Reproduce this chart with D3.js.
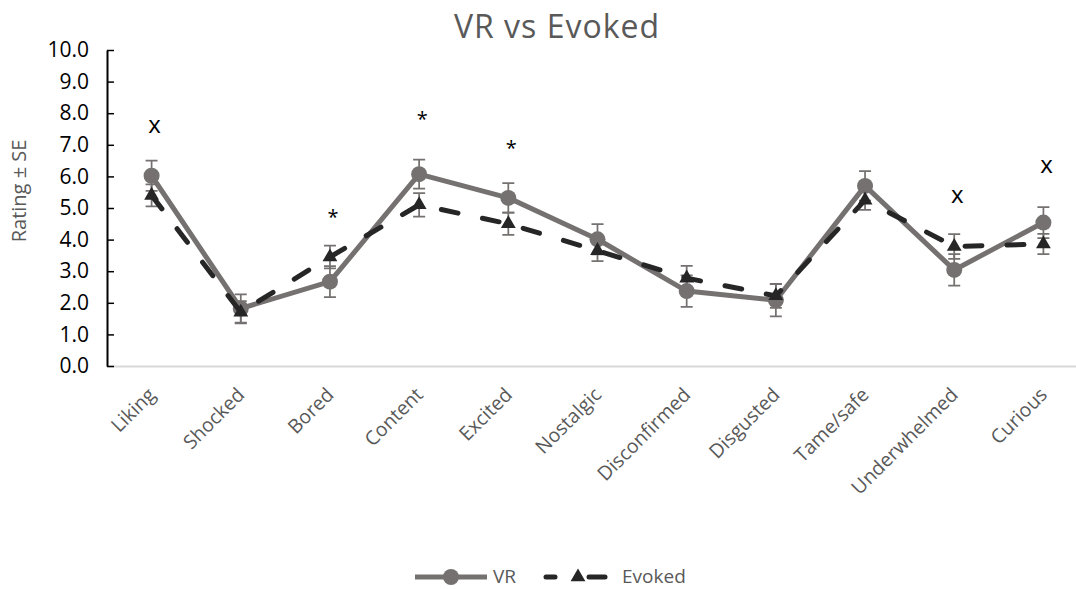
<!DOCTYPE html>
<html>
<head>
<meta charset="utf-8">
<script src="https://cdn.jsdelivr.net/npm/d3@7"></script>
<style>
  html, body { margin: 0; padding: 0; background: #fff; }
  svg { display: block; font-family: "Open Sans", sans-serif; }
</style>
</head>
<body>
<svg id="chart"></svg>
<script>
// Chart data
const categories = ["Liking", "Shocked", "Bored", "Content", "Excited", "Nostalgic",
  "Disconfirmed", "Disgusted", "Tame/safe", "Underwhelmed", "Curious"];
const vrMean = [6.02, 1.82, 2.67, 6.07, 5.32, 4.01, 2.37, 2.08, 5.70, 3.04, 4.54];
const vrSE = [0.48, 0.45, 0.49, 0.46, 0.47, 0.48, 0.50, 0.51, 0.47, 0.50, 0.49];
const evokedMean = [5.40, 1.70, 3.45, 5.10, 4.50, 3.65, 2.78, 2.22, 5.25, 3.78, 3.86];
const evokedSE = [0.35, 0.35, 0.36, 0.37, 0.35, 0.33, 0.39, 0.38, 0.31, 0.39, 0.32];
const yTicks = [0, 1, 2, 3, 4, 5, 6, 7, 8, 9, 10];
// significance marks and the rating level they sit at
const sigMarks = ["x", "", "*", "*", "*", "", "", "", "", "x", "x"];
const sigLevel = [7.37, null, 4.49, 7.61, 6.68, null, null, null, null, 5.16, 6.11];

const W = 1076, H = 589;
const margin = { top: 50, left: 107, bottom: 223 };
const plotW = 981;
const plotH = H - margin.top - margin.bottom;

const grey = "#767171";
const dark = "#262626";
const textGrey = "#595959";

const svg = d3.select("#chart").attr("width", W).attr("height", H);

const x = d3.scaleBand().domain(categories).range([0, plotW]);
const y = d3.scaleLinear().domain([0, 10]).range([plotH, 0]);
const cx = c => x(c) + x.bandwidth() / 2;

const g = svg.append("g").attr("transform", `translate(${margin.left},${margin.top})`);

// Title
svg.append("text")
  .attr("x", 557)
  .attr("y", 38)
  .attr("text-anchor", "middle")
  .attr("fill", textGrey)
  .style("font-size", "32px")
  .style("letter-spacing", "1px")
  .text("VR vs Evoked");

// Y axis title
svg.append("text")
  .attr("transform", "translate(26,191) rotate(-90)")
  .attr("text-anchor", "middle")
  .attr("fill", textGrey)
  .style("font-size", "20px")
  .text("Rating ± SE");

// X axis (light grey baseline, rotated labels)
const xAxis = g.append("g")
  .attr("transform", `translate(0,${plotH})`)
  .call(d3.axisBottom(x).tickSize(0));
xAxis.select(".domain").attr("stroke", "#d9d9d9").attr("stroke-width", 2);
xAxis.selectAll("text")
  .attr("x", 0).attr("y", 0).attr("dy", 0)
  .attr("transform", "translate(5,30) rotate(-45)")
  .style("text-anchor", "end")
  .style("font-size", "19.5px")
  .style("font-family", "Open Sans")
  .attr("fill", textGrey);

// Y axis (black line, inward ticks)
const yAxis = g.append("g")
  .call(d3.axisLeft(y).tickValues(yTicks).tickSize(-7).tickSizeOuter(0)
    .tickPadding(18).tickFormat(d3.format(".1f")));
yAxis.select(".domain").attr("stroke", "#000").attr("stroke-width", 2);
yAxis.selectAll(".tick line").attr("stroke", "#000").attr("stroke-width", 1.5);
yAxis.selectAll("text")
  .style("font-size", "21px")
  .style("font-family", "Open Sans")
  .attr("fill", "#000");

const vrData = categories.map((c, i) => ({ c, v: vrMean[i], se: vrSE[i] }));
const evData = categories.map((c, i) => ({ c, v: evokedMean[i], se: evokedSE[i] }));

function errorBars(data) {
  const eb = g.append("g").attr("stroke", grey).attr("stroke-width", 1.75).attr("fill", "none");
  eb.selectAll("path").data(data).join("path")
    .attr("d", d => {
      const xc = cx(d.c), y1 = y(d.v + d.se), y0 = y(d.v - d.se);
      return `M${xc},${y1}V${y0}M${xc - 6},${y1}H${xc + 6}M${xc - 6},${y0}H${xc + 6}`;
    });
}

const line = d3.line().x(d => cx(d.c)).y(d => y(d.v));

// VR series
errorBars(vrData);
g.append("path").datum(vrData)
  .attr("fill", "none").attr("stroke", grey).attr("stroke-width", 5)
  .attr("stroke-linejoin", "round")
  .attr("d", line);
g.append("g").selectAll("circle").data(vrData).join("circle")
  .attr("cx", d => cx(d.c)).attr("cy", d => y(d.v)).attr("r", 8)
  .attr("fill", grey);

// Evoked series
errorBars(evData);
g.append("path").datum(evData)
  .attr("fill", "none").attr("stroke", dark).attr("stroke-width", 5)
  .attr("stroke-linecap", "round")
  .attr("stroke-dasharray", "17 25")
  .attr("d", line);
const tri = d3.symbol().type(d3.symbolTriangle).size(95);
g.append("g").selectAll("path").data(evData).join("path")
  .attr("transform", d => `translate(${cx(d.c)},${y(d.v)})`)
  .attr("d", tri)
  .attr("fill", dark);

// Significance marks
g.append("g").selectAll("text")
  .data(categories.map((c, i) => ({ c, m: sigMarks[i], v: sigLevel[i] })).filter(d => d.m))
  .join("text")
  .attr("x", d => cx(d.c) + 3)
  .attr("y", d => y(d.v))
  .attr("text-anchor", "middle")
  .attr("fill", "#000")
  .style("font-size", d => d.m === "x" ? "24px" : "20px")
  .text(d => d.m);

// Legend
const lg = svg.append("g").attr("transform", "translate(0,577)");
lg.append("line").attr("x1", 415).attr("x2", 487).attr("y1", 0).attr("y2", 0)
  .attr("stroke", grey).attr("stroke-width", 5);
lg.append("circle").attr("cx", 451).attr("cy", 0).attr("r", 8).attr("fill", grey);
lg.append("text").attr("x", 493).attr("y", 6).attr("fill", textGrey)
  .style("font-size", "19px").text("VR");
lg.append("line").attr("x1", 546).attr("x2", 555).attr("y1", 0).attr("y2", 0)
  .attr("stroke", dark).attr("stroke-width", 5).attr("stroke-linecap", "round");
lg.append("line").attr("x1", 589).attr("x2", 605).attr("y1", 0).attr("y2", 0)
  .attr("stroke", dark).attr("stroke-width", 5).attr("stroke-linecap", "round");
lg.append("path").attr("transform", "translate(578,0)").attr("d", tri).attr("fill", dark);
lg.append("text").attr("x", 622).attr("y", 6).attr("fill", textGrey)
  .style("font-size", "19px").text("Evoked");
</script>
</body>
</html>
